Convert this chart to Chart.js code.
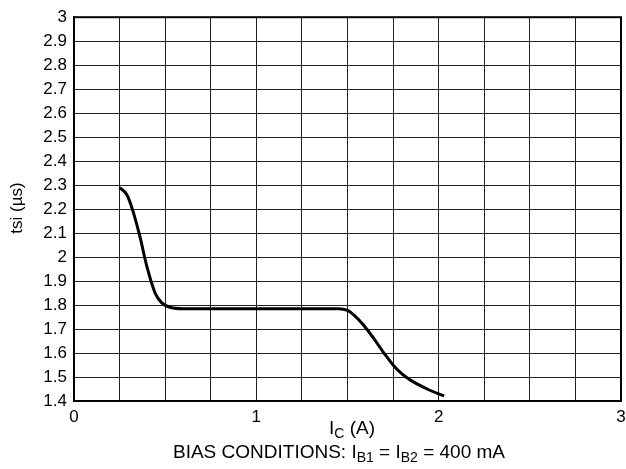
<!DOCTYPE html>
<html>
<head>
<meta charset="utf-8">
<script src="https://cdn.jsdelivr.net/npm/chart.js@4"></script>
<style>
  html, body { margin: 0; padding: 0; background: #fff; }
  canvas { display: block; }
</style>
</head>
<body>
<canvas id="tsiChart" width="626" height="469"></canvas>
<script>
// Değerler
const icAmps = [0.25, 0.29, 0.32, 0.36, 0.40, 0.445, 0.48, 0.53, 0.60, 0.80, 1.00, 1.20, 1.45, 1.50, 1.54, 1.59, 1.64, 1.70, 1.75, 1.80, 1.85, 1.94, 2.03];
const tsiMicro = [2.29, 2.26, 2.20, 2.09, 1.96, 1.85, 1.81, 1.79, 1.785, 1.785, 1.785, 1.785, 1.785, 1.778, 1.755, 1.715, 1.665, 1.60, 1.55, 1.512, 1.485, 1.449, 1.421];
const xTickLabels = ['0', '1', '2', '3'];
const yMin = 1.4, yMax = 3, xMin = 0, xMax = 3;

const FONT = '"Liberation Sans", Arial, Helvetica, sans-serif';
const GRID = '#222';

// Alt indisli metin çizimi
function drawRich(ctx, parts, cx, baseline, size) {
    const subSize = Math.round(size * 0.75);
    let total = 0;
    parts.forEach(p => {
        ctx.font = (p.sub ? subSize : size) + 'px ' + FONT;
        total += ctx.measureText(p.t).width;
    });
    let x = cx - total / 2;
    parts.forEach(p => {
        ctx.font = (p.sub ? subSize : size) + 'px ' + FONT;
        ctx.fillText(p.t, x, baseline + (p.sub ? 4 : 0));
        x += ctx.measureText(p.t).width;
    });
}

const titlesPlugin = {
    id: 'titles',
    afterDraw(chart) {
        const ctx = chart.ctx;
        const area = chart.chartArea;
        ctx.save();
        ctx.fillStyle = '#000';
        ctx.textAlign = 'left';
        ctx.textBaseline = 'alphabetic';

        // çerçeve
        ctx.strokeStyle = '#000';
        ctx.lineWidth = 2;
        ctx.strokeRect(area.left, area.top, area.right - area.left, area.bottom - area.top);

        drawRich(ctx, [{ t: 'I' }, { t: 'C', sub: true }, { t: ' (A)' }], 352, 434, 19);
        drawRich(ctx, [
            { t: 'BIAS CONDITIONS: I' }, { t: 'B1', sub: true },
            { t: ' = I' }, { t: 'B2', sub: true }, { t: ' = 400 mA' }
        ], 339, 458, 19);

        // y ekseni başlığı
        ctx.translate(22, 208);
        ctx.rotate(-Math.PI / 2);
        ctx.font = '17px ' + FONT;
        ctx.textAlign = 'center';
        ctx.fillText('tsi (\u00b5s)', 0, 0);
        ctx.restore();
    }
};

new Chart(document.getElementById('tsiChart'), {
    type: 'line',
    data: {
        datasets: [{
            data: icAmps.map((x, i) => ({ x: x, y: tsiMicro[i] })),
            borderColor: '#000',
            borderWidth: 3,
            pointRadius: 0,
            cubicInterpolationMode: 'monotone',
            fill: false
        }]
    },
    options: {
        responsive: false,
        animation: false,
        devicePixelRatio: 1,
        layout: { padding: { top: 17, right: 5, left: 0, bottom: 0 } },
        plugins: { legend: { display: false }, tooltip: { enabled: false } },
        scales: {
            x: {
                type: 'linear',
                min: xMin,
                max: xMax,
                afterFit: scale => { scale.height = 68; scale.paddingRight = 0; },
                grid: { color: GRID, lineWidth: 1, drawTicks: false },
                border: { color: '#000', width: 2 },
                ticks: {
                    stepSize: 0.25,
                    padding: 6,
                    color: '#000',
                    font: { family: FONT, size: 17 },
                    maxRotation: 0,
                    autoSkip: false,
                    callback: v => Number.isInteger(v) ? xTickLabels[v] : ''
                }
            },
            y: {
                type: 'linear',
                min: yMin,
                max: yMax,
                afterFit: scale => { scale.width = 74; },
                grid: { color: GRID, lineWidth: 1, drawTicks: false },
                border: { color: '#000', width: 2 },
                ticks: {
                    stepSize: 0.1,
                    padding: 7,
                    color: '#000',
                    font: { family: FONT, size: 17 },
                    autoSkip: false,
                    callback: v => String(Number(v.toFixed(1)))
                }
            }
        }
    },
    plugins: [titlesPlugin]
});
</script>
</body>
</html>
